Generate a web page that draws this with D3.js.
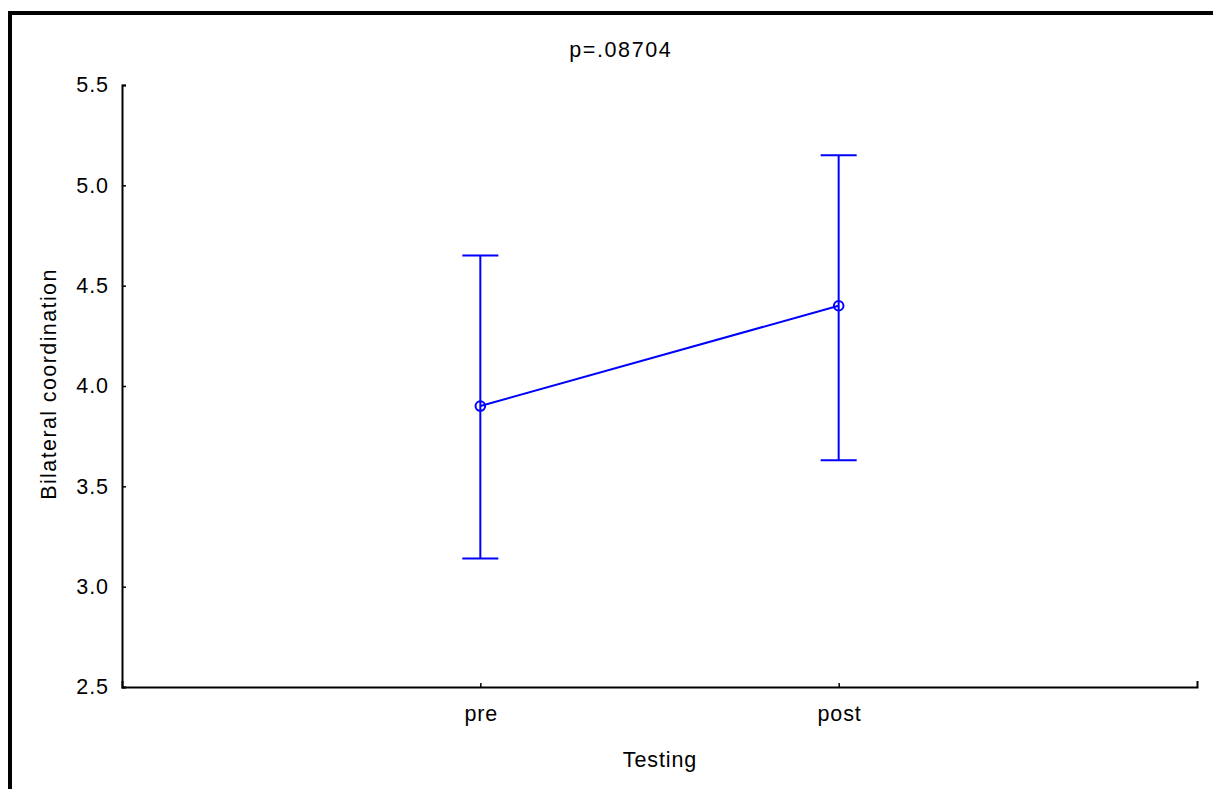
<!DOCTYPE html>
<html>
<head>
<meta charset="utf-8">
<script src="https://cdn.jsdelivr.net/npm/d3@7"></script>
<style>
  html, body { margin: 0; padding: 0; background: #fff; }
  svg { display: block; }
  text { font-family: "Liberation Sans", Arial, sans-serif; fill: #000; }
</style>
</head>
<body>
<svg id="chart" width="1213" height="789"></svg>
<script>
const categories = ["pre", "post"];
const means = [3.90, 4.40];
const upper = [4.65, 5.15];
const lower = [3.14, 3.63];
const yTicks = [2.5, 3.0, 3.5, 4.0, 4.5, 5.0, 5.5];
const title = "p=.08704";
const xTitle = "Testing";
const yTitle = "Bilateral coordination";

(function () {
const svg = d3.select("#chart");
const pLeft = 122, pRight = 1197, pTop = 85, pBottom = 687;
const FS = 21.5;
const LS = 0.9; // letter spacing

// outer frame (only top and left visible)
svg.append("rect").attr("x", 10).attr("y", 13).attr("width", 1300).attr("height", 900)
  .attr("fill", "none").attr("stroke", "#000").attr("stroke-width", 4);

const y = d3.scaleLinear().domain([2.5, 5.5]).range([pBottom, pTop]);
const x = d3.scalePoint().domain(categories).range([pLeft, pRight]).padding(1);

// y axis
const yAxis = svg.append("g").attr("transform", `translate(${pLeft},0)`)
  .call(d3.axisLeft(y).tickValues(yTicks).tickFormat(d3.format(".1f")).tickSizeInner(-4).tickSizeOuter(-4).tickPadding(14));
yAxis.select(".domain").attr("stroke", "#000").attr("stroke-width", 2);
yAxis.selectAll(".tick line").attr("stroke", "#000").attr("stroke-width", 1.5);
yAxis.selectAll(".tick text").attr("font-size", FS).attr("letter-spacing", LS + "px")
  .attr("font-family", "Liberation Sans, Arial, sans-serif").attr("dx", LS + "px");

// x axis
const xAxis = svg.append("g").attr("transform", `translate(0,${pBottom})`)
  .call(d3.axisBottom(x).tickSizeInner(-4).tickSizeOuter(-6).tickPadding(19));
xAxis.select(".domain").attr("stroke", "#000").attr("stroke-width", 2);
xAxis.selectAll(".tick line").attr("stroke", "#000").attr("stroke-width", 1.5);
xAxis.selectAll(".tick text").attr("font-size", FS).attr("letter-spacing", LS + "px")
  .attr("font-family", "Liberation Sans, Arial, sans-serif").attr("dx", (LS / 2) + "px");

// titles
svg.append("text").attr("x", 620 + 0.8).attr("y", 57).attr("text-anchor", "middle")
  .attr("font-size", FS).attr("letter-spacing", "1.6px").text(title);
svg.append("text").attr("x", (pLeft + pRight) / 2 + LS / 2).attr("y", 767).attr("text-anchor", "middle")
  .attr("font-size", FS).attr("letter-spacing", LS + "px").text(xTitle);
svg.append("text").attr("transform", `translate(56,384) rotate(-90)`).attr("text-anchor", "middle")
  .attr("font-size", FS).attr("letter-spacing", "1.4px").text(yTitle);

const blue = "#0000ff";
const g = svg.append("g");
const data = categories.map((c, i) => ({ c, m: means[i], u: upper[i], l: lower[i] }));

// error bars
g.selectAll("line.err").data(data).join("line").attr("class", "err")
  .attr("x1", d => x(d.c)).attr("x2", d => x(d.c))
  .attr("y1", d => y(d.u)).attr("y2", d => y(d.l))
  .attr("stroke", blue).attr("stroke-width", 2);
g.selectAll("line.capU").data(data).join("line").attr("class", "capU")
  .attr("x1", d => x(d.c) - 18).attr("x2", d => x(d.c) + 18)
  .attr("y1", d => y(d.u)).attr("y2", d => y(d.u))
  .attr("stroke", blue).attr("stroke-width", 2);
g.selectAll("line.capL").data(data).join("line").attr("class", "capL")
  .attr("x1", d => x(d.c) - 18).attr("x2", d => x(d.c) + 18)
  .attr("y1", d => y(d.l)).attr("y2", d => y(d.l))
  .attr("stroke", blue).attr("stroke-width", 2);

// mean line
g.append("path").datum(data)
  .attr("d", d3.line().x(d => x(d.c)).y(d => y(d.m)))
  .attr("fill", "none").attr("stroke", blue).attr("stroke-width", 2);

// points
g.selectAll("circle").data(data).join("circle")
  .attr("cx", d => x(d.c)).attr("cy", d => y(d.m)).attr("r", 4.8)
  .attr("fill", "none").attr("stroke", blue).attr("stroke-width", 2);
})();
</script>
</body>
</html>
